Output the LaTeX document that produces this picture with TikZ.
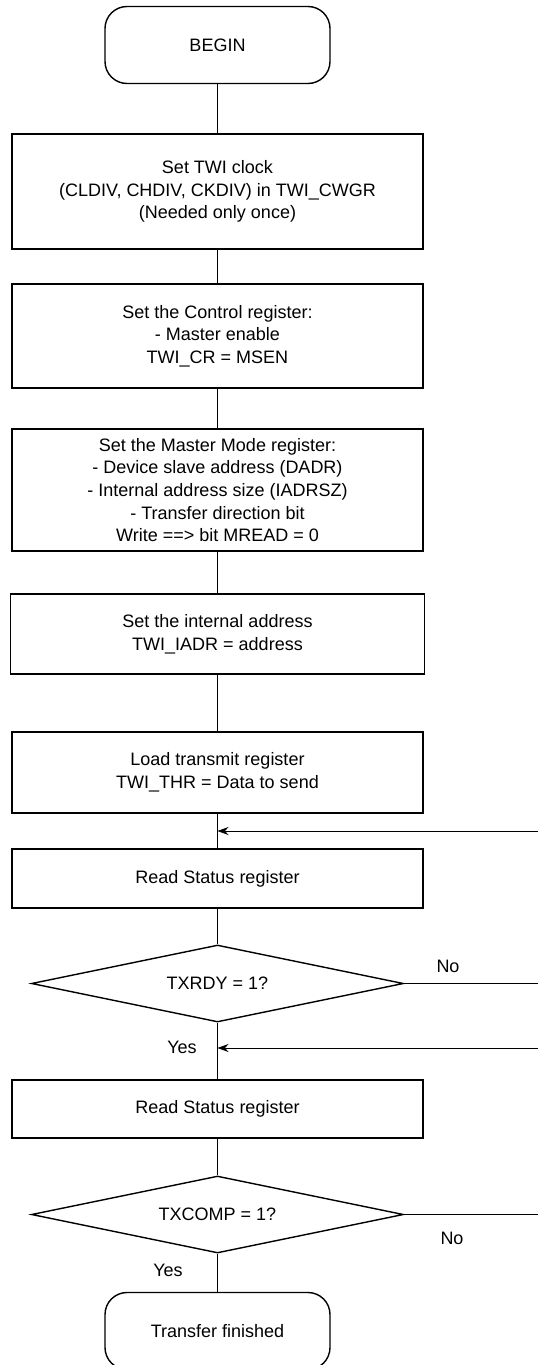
\documentclass[tikz,border=0pt]{standalone}
\usepackage{fontspec}
\setmainfont{Liberation Sans}
\usetikzlibrary{shapes.geometric,arrows.meta}

\begin{document}
\begin{tikzpicture}[x=1pt,y=-1pt,
  every node/.style={font=\fontsize{18}{22.7}\selectfont, align=center},
  proc/.style={draw, line width=1.4pt, rectangle, minimum width=411pt, inner sep=0pt},
  term/.style={draw, line width=1.4pt, rectangle, rounded corners=22pt, minimum width=225pt, minimum height=77pt, inner sep=0pt},
  test/.style={draw, line width=1.4pt, diamond, aspect=4.83, minimum width=372pt, minimum height=77pt, inner sep=0pt},
  link/.style={line width=0.7pt},
  back/.style={link, -{Stealth[length=11pt,width=8pt]}}]
\path[use as bounding box, clip] (0,0) rectangle (538,1365);

\node[term] (begin) at (217.5,45) {BEGIN};
\node[proc, minimum height=115pt] (clk) at (217.5,191.5) {Set TWI clock\\(CLDIV, CHDIV, CKDIV) in TWI\_CWGR\\(Needed only once)};
\node[proc, minimum height=104pt] (ctrl) at (217.5,336) {Set the Control register:\\- Master enable\\TWI\_CR = MSEN};
\node[proc, minimum height=122pt] (mode) at (217.5,490) {Set the Master Mode register:\\- Device slave address (DADR)\\- Internal address size (IADRSZ)\\- Transfer direction bit\\Write ==> bit MREAD = 0};
\node[proc, minimum height=80pt, minimum width=414pt] (iadr) at (217.5,634) {Set the internal address\\TWI\_IADR = address};
\node[proc, minimum height=81pt] (thr) at (217.5,772.5) {Load transmit register\\TWI\_THR = Data to send};
\node[proc, minimum height=59pt] (rd1) at (217.5,878.5) {Read Status register};
\node[test] (txrdy) at (217.5,983.5) {TXRDY = 1?};
\node[proc, minimum height=58pt] (rd2) at (217.5,1109) {Read Status register};
\node[test] (txcomp) at (217.5,1214.5) {TXCOMP = 1?};
\node[term] (done) at (217.5,1331) {Transfer finished};

\coordinate (j1) at (217.5,831);
\coordinate (j2) at (217.5,1048);
\coordinate (e1) at (538,831);
\coordinate (e2) at (538,983.5);
\coordinate (e3) at (538,1048);
\coordinate (e4) at (538,1214.5);

\draw[link] (begin) -- (clk);
\draw[link] (clk) -- (ctrl);
\draw[link] (ctrl) -- (mode);
\draw[link] (mode) -- (iadr);
\draw[link] (iadr) -- (thr);
\draw[link] (thr) -- (rd1);
\draw[link] (rd1) -- (txrdy);
\draw[link] (txrdy) -- (rd2);
\draw[link] (rd2) -- (txcomp);
\draw[link] (txcomp) -- (done);
\draw[link] (txrdy.east) -- (e2);
\draw[link] (txcomp.east) -- (e4);
\draw[back] (e1) -- (j1);
\draw[back] (e3) -- (j2);

\node (no1) at (448,966) {No};
\node (yes1) at (182,1047) {Yes};
\node (no2) at (452,1238) {No};
\node (yes2) at (168,1270) {Yes};

\end{tikzpicture}
\end{document}
